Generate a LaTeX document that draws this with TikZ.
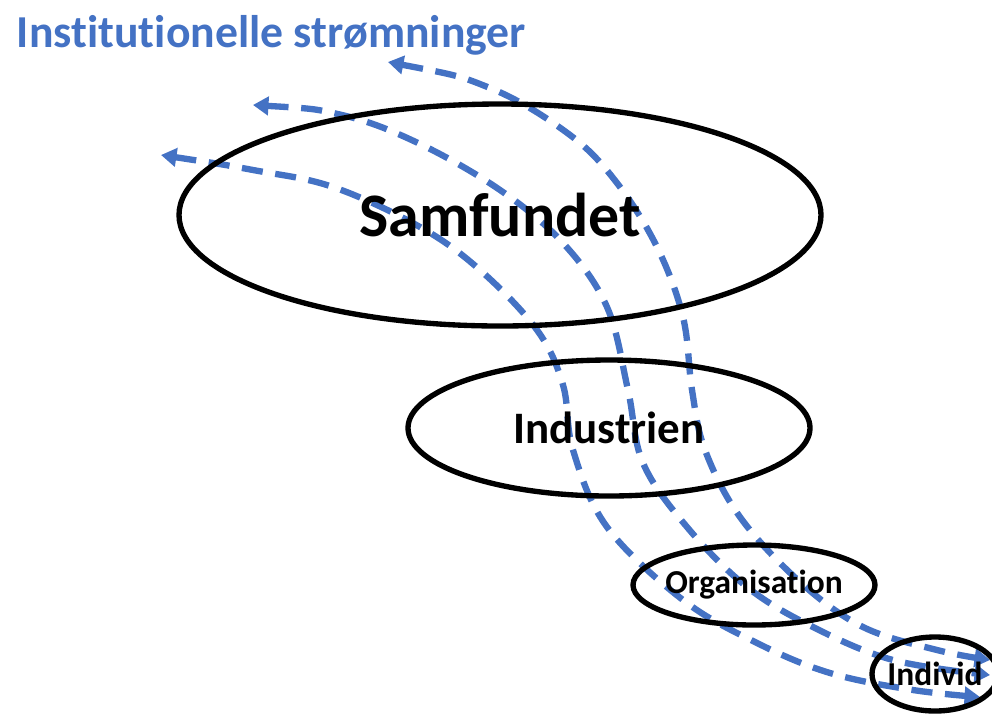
\documentclass[tikz,border=0pt]{standalone}
\usepackage{fontspec}
\setmainfont[Ligatures=NoCommon]{Carlito}
\usetikzlibrary{shapes.geometric,arrows.meta}
\definecolor{stroemblaa}{HTML}{4472C4}
\begin{document}
\begin{tikzpicture}[x=0.025cm,y=-0.025cm,line join=round,>={Triangle[length=11pt,width=13pt]},
		niveau/.style={ellipse,draw,line width=3.8pt,inner xsep=-6pt,inner ysep=0pt},
		stroem/.style={stroemblaa,line width=4.5pt,dash pattern=on 15pt off 9pt,<->}]
	\def\px{0.025cm}
	\useasboundingbox (0,0) rectangle (992,713);
	% de tre strømninger, fra samfundet ned til individet
	\draw[stroem] plot[smooth,tension=0.6] coordinates {(388,62) (490,88) (570,135) (617,183) (657,247) (683,317) (692,390) (705,450) (740,517) (800,582) (863,627) (937,650) (990,660)};
	\draw[stroem] plot[smooth,tension=0.6] coordinates {(253,105) (342,115) (418,143) (500,190) (563,243) (607,307) (628,390) (643,463) (687,527) (747,587) (813,627) (893,660) (990,675)};
	\draw[stroem] plot[smooth,tension=0.6] coordinates {(161,155) (253,170) (333,187) (420,227) (480,270) (537,330) (563,385) (573,450) (607,527) (683,600) (757,643) (830,673) (913,690) (980,697)};
	% niveauerne
	\node[niveau,minimum width=642*\px,minimum height=222*\px,font=\bfseries\fontsize{44}{48}\selectfont] (samfund) at (500,215) {Samfundet};
	\node[niveau,minimum width=402*\px,minimum height=136*\px,font=\bfseries\fontsize{32}{36}\selectfont] (industri) at (609,428) {Industrien};
	\node[niveau,minimum width=242*\px,minimum height=80*\px,font=\bfseries\fontsize{23.8}{27}\selectfont] (organisation) at (754,585) {Organisation};
	\node[niveau,minimum width=126*\px,minimum height=74*\px,font=\bfseries\fontsize{23.8}{27}\selectfont] (individ) at (935,674) {Individ};
	\node[anchor=base west,text=stroemblaa,font=\bfseries\fontsize{32.5}{36}\selectfont] (titel) at (12,47) {Institutionelle strømninger};
\end{tikzpicture}
\end{document}
